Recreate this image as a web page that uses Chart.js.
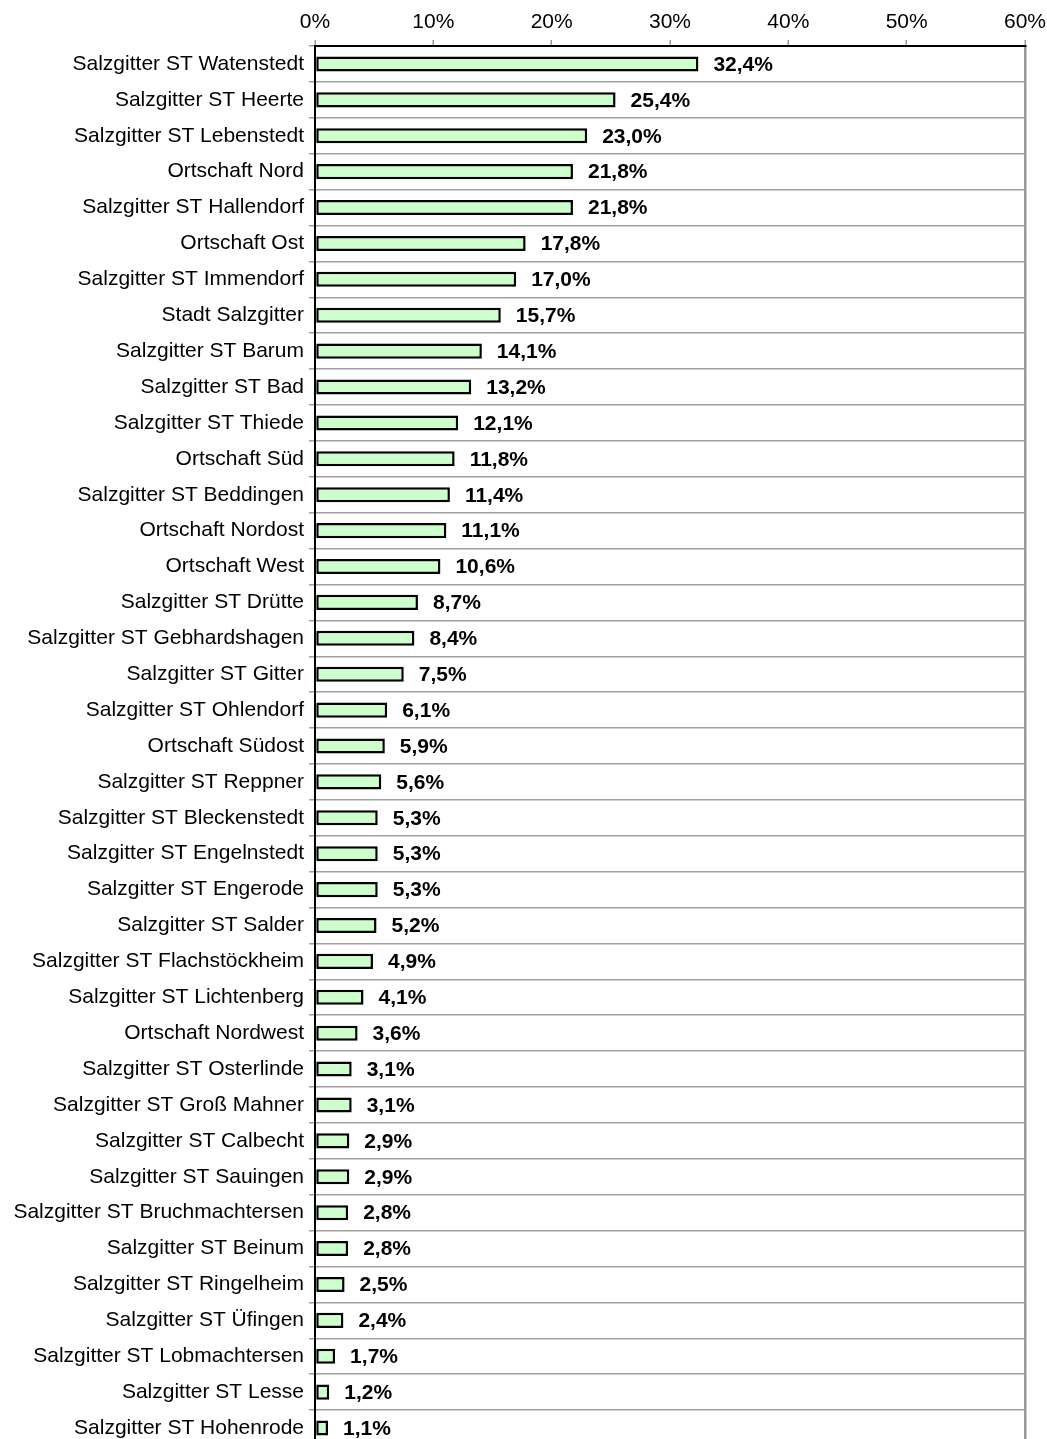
<!DOCTYPE html>
<html><head><meta charset="utf-8">
<script src="https://cdn.jsdelivr.net/npm/chart.js@4/dist/chart.umd.min.js"></script>
<style>html,body{margin:0;padding:0;background:#fff;overflow:hidden;}#wrap{width:1047px;height:1446px;}</style>
</head><body><div id="wrap"><canvas id="c" width="1047" height="1446"></canvas></div>
<script>
const categories = ["Salzgitter ST Watenstedt","Salzgitter ST Heerte","Salzgitter ST Lebenstedt","Ortschaft Nord","Salzgitter ST Hallendorf","Ortschaft Ost","Salzgitter ST Immendorf","Stadt Salzgitter","Salzgitter ST Barum","Salzgitter ST Bad","Salzgitter ST Thiede","Ortschaft Süd","Salzgitter ST Beddingen","Ortschaft Nordost","Ortschaft West","Salzgitter ST Drütte","Salzgitter ST Gebhardshagen","Salzgitter ST Gitter","Salzgitter ST Ohlendorf","Ortschaft Südost","Salzgitter ST Reppner","Salzgitter ST Bleckenstedt","Salzgitter ST Engelnstedt","Salzgitter ST Engerode","Salzgitter ST Salder","Salzgitter ST Flachstöckheim","Salzgitter ST Lichtenberg","Ortschaft Nordwest","Salzgitter ST Osterlinde","Salzgitter ST Groß Mahner","Salzgitter ST Calbecht","Salzgitter ST Sauingen","Salzgitter ST Bruchmachtersen","Salzgitter ST Beinum","Salzgitter ST Ringelheim","Salzgitter ST Üfingen","Salzgitter ST Lobmachtersen","Salzgitter ST Lesse","Salzgitter ST Hohenrode"];
const values = [32.4,25.4,23.0,21.8,21.8,17.8,17.0,15.7,14.1,13.2,12.1,11.8,11.4,11.1,10.6,8.7,8.4,7.5,6.1,5.9,5.6,5.3,5.3,5.3,5.2,4.9,4.1,3.6,3.1,3.1,2.9,2.9,2.8,2.8,2.5,2.4,1.7,1.2,1.1];
const xTicks = [0,10,20,30,40,50,60];

const FONT = "'Liberation Sans', Arial, sans-serif";
const labelPlugin = {
  id: 'valLabels',
  afterDatasetsDraw(chart) {
    const ctx = chart.ctx;
    const meta = chart.getDatasetMeta(0);
    ctx.save();
    ctx.font = "bold 21px " + FONT;
    ctx.fillStyle = '#000';
    ctx.textAlign = 'left';
    ctx.textBaseline = 'middle';
    meta.data.forEach((el, i) => {
      ctx.fillText(values[i].toFixed(1).replace('.', ',') + '%', el.x + 15, el.y + 1);
    });
    ctx.restore();
  }
};

new Chart(document.getElementById('c'), {
  type: 'bar',
  data: { labels: categories, datasets: [{ data: values, backgroundColor: '#ccffcc', borderColor: '#000', borderWidth: 2.5, borderSkipped: false, barPercentage: 0.42, categoryPercentage: 1.0 }] },
  options: {
    indexAxis: 'y', responsive: false, animation: false, devicePixelRatio: 1,
    layout: { padding: { left: 0, right: 22, top: 0, bottom: 0 } },
    plugins: { legend: { display: false }, tooltip: { enabled: false } },
    scales: {
      x: {
        position: 'top', min: 0, max: 60,
        afterBuildTicks(s) { s.ticks = xTicks.map(v => ({ value: v })); },
        afterFit(s) { s.height = 46; s.paddingLeft = 0; s.paddingRight = 0; },
        ticks: { callback: v => v + '%', color: '#000', font: { family: FONT, size: 21 }, padding: 5, maxRotation: 0 },
        grid: { color: c => (c.tick && c.tick.value === 60) ? '#999' : 'rgba(0,0,0,0)', lineWidth: 2.5, tickColor: '#999', tickLength: 6, tickWidth: 1.5 },
        border: { display: true, color: '#000', width: 2 }
      },
      y: {
        afterFit(s) { s.width = 315; s.paddingTop = 0; s.paddingBottom = 0; },
        ticks: { color: '#000', font: { family: FONT, size: 21 }, padding: 5, autoSkip: false },
        grid: { offset: true, color: '#a0a0a0', lineWidth: 1.5, tickColor: '#a0a0a0', tickLength: 6 },
        border: { display: true, color: '#000', width: 2 }
      }
    }
  },
  plugins: [labelPlugin]
});
</script></body></html>
